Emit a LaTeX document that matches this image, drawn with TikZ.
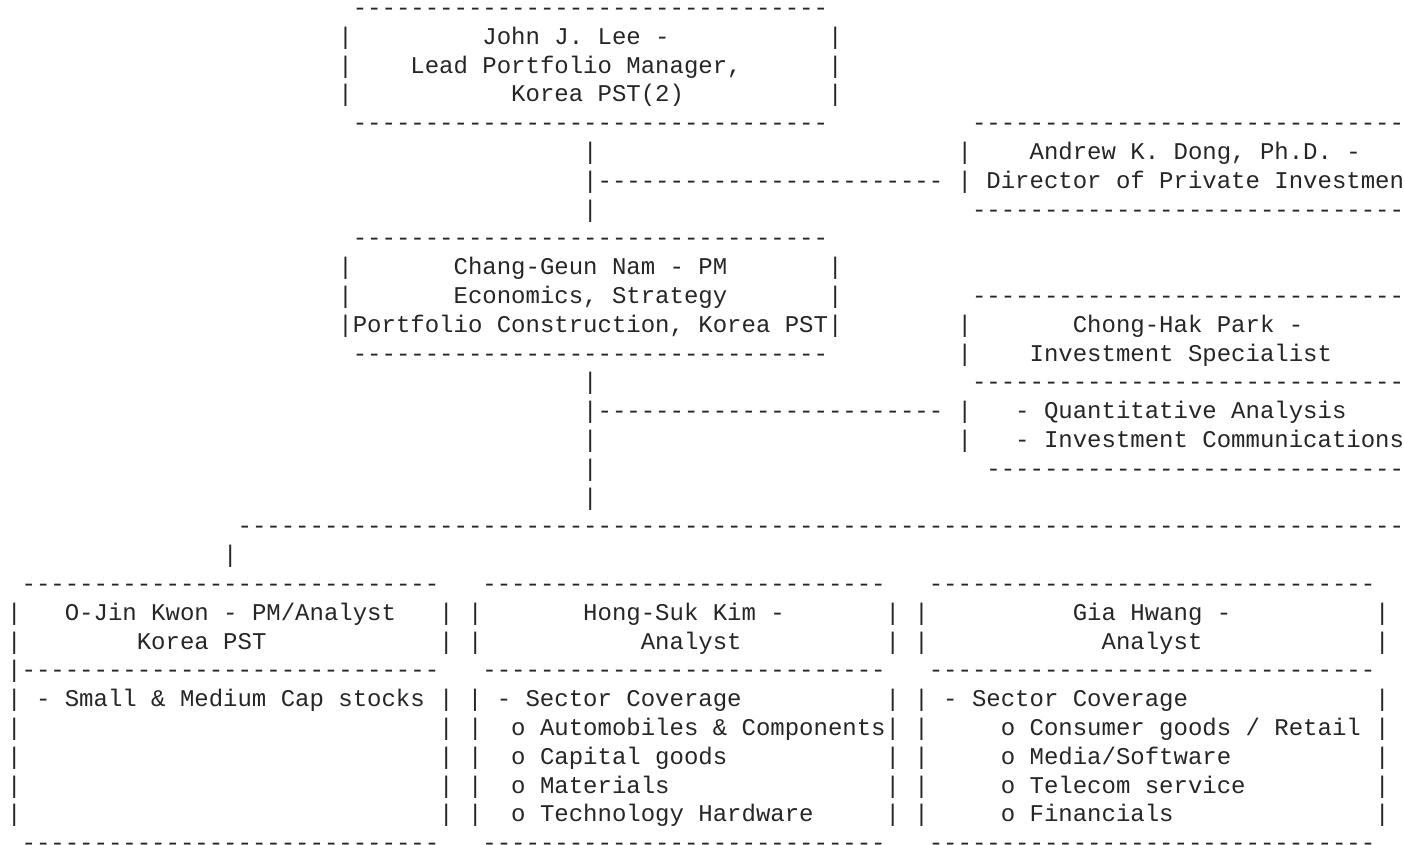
\documentclass[tikz,border=0pt]{standalone}
\usepackage{fontspec}
\setmonofont{Liberation Mono}
\ExplSyntaxOn
\cs_new:Npn \dashrun #1 { \prg_replicate:nn {#1} {-{}} }
\ExplSyntaxOff
\tikzset{asc/.style={anchor=base west, inner sep=0pt, outer sep=0pt,
  font=\ttfamily\fontsize{18pt}{21.6pt}\selectfont, text=black!85},
  dsh/.style={asc, text height=0.45em, text depth=0pt}}
\newcommand\asc[4]{\node[asc] (#1) at ({7.2+14.4*#2},{15.5+28.8*#3}) {#4};}
\newcommand\dsh[4]{\node[dsh] (#1) at ({7.2+14.4*#2},{15.5+28.8*#3}) {\dashrun{#4}};}
\begin{document}
\begin{tikzpicture}[x=0.75pt,y=-0.75pt]
\useasboundingbox (0,0) rectangle (1404,844);
\fill[white] (0,0) rectangle (1404,844);
\clip (0,0) rectangle (1404,844);
% John J. Lee box
\dsh{jltop}{24}{0}{33}
\asc{jll1}{23}{1}{|}\asc{jlt1}{33}{1}{John J. Lee -}\asc{jlr1}{57}{1}{|}
\asc{jll2}{23}{2}{|}\asc{jlt2}{28}{2}{Lead Portfolio Manager,}\asc{jlr2}{57}{2}{|}
\asc{jll3}{23}{3}{|}\asc{jlt3}{35}{3}{Korea PST(2)}\asc{jlr3}{57}{3}{|}
\dsh{jlbot}{24}{4}{33}
% Andrew K. Dong box
\dsh{adtop}{67}{4}{30}
\asc{v5}{40}{5}{|}\asc{adl5}{66}{5}{|}\asc{adt5}{71}{5}{Andrew K. Dong, Ph.D. -}
\asc{h6}{40}{6}{|\dashrun{24}}\asc{adt6}{66}{6}{| Director of Private Investmen}
\asc{v7}{40}{7}{|}\dsh{adbot}{67}{7}{30}
% Chang-Geun Nam box
\dsh{cntop}{24}{8}{33}
\asc{cnl9}{23}{9}{|}\asc{cnt9}{31}{9}{Chang-Geun Nam - PM}\asc{cnr9}{57}{9}{|}
\asc{cnl10}{23}{10}{|}\asc{cnt10}{31}{10}{Economics, Strategy}\asc{cnr10}{57}{10}{|}
\dsh{cptop}{67}{10}{30}
\asc{cnt11}{23}{11}{|Portfolio Construction, Korea PST|}
\asc{cpl11}{66}{11}{|}\asc{cpt11}{74}{11}{Chong-Hak Park -}
\dsh{cnbot}{24}{12}{33}
\asc{cpl12}{66}{12}{|}\asc{cpt12}{71}{12}{Investment Specialist}
\asc{v13}{40}{13}{|}\dsh{cpmid}{67}{13}{30}
\asc{h14}{40}{14}{|\dashrun{24}}\asc{cpl14}{66}{14}{|}\asc{cpt14}{70}{14}{- Quantitative Analysis}
\asc{v15}{40}{15}{|}\asc{cpl15}{66}{15}{|}\asc{cpt15}{70}{15}{- Investment Communications}
\asc{v16}{40}{16}{|}\dsh{cpbot}{68}{16}{29}
\asc{v17}{40}{17}{|}
% branch line
\dsh{h18}{16}{18}{81}
\asc{v19}{15}{19}{|}
% bottom boxes
\dsh{b1top}{1}{20}{29}\dsh{b2top}{33}{20}{28}\dsh{b3top}{64}{20}{31}
\asc{b1l21}{0}{21}{|}\asc{b1t21}{4}{21}{O-Jin Kwon - PM/Analyst}\asc{s21a}{30}{21}{| |}
\asc{b2t21}{40}{21}{Hong-Suk Kim -}\asc{s21b}{61}{21}{| |}\asc{b3t21}{74}{21}{Gia Hwang -}\asc{b3r21}{95}{21}{|}
\asc{b1l22}{0}{22}{|}\asc{b1t22}{9}{22}{Korea PST}\asc{s22a}{30}{22}{| |}
\asc{b2t22}{44}{22}{Analyst}\asc{s22b}{61}{22}{| |}\asc{b3t22}{76}{22}{Analyst}\asc{b3r22}{95}{22}{|}
\asc{b1mid}{0}{23}{|\dashrun{29}}\dsh{b2mid}{33}{23}{28}\dsh{b3mid}{64}{23}{31}
\asc{r24a}{0}{24}{| - Small \& Medium Cap stocks | | - Sector Coverage}
\asc{r24b}{61}{24}{| | - Sector Coverage}\asc{r24c}{95}{24}{|}
\asc{r25a}{0}{25}{|}\asc{r25b}{30}{25}{| |}\asc{r25c}{35}{25}{o Automobiles \& Components| |}
\asc{r25d}{69}{25}{o Consumer goods / Retail |}
\asc{r26a}{0}{26}{|}\asc{r26b}{30}{26}{| |}\asc{r26c}{35}{26}{o Capital goods}
\asc{r26d}{61}{26}{| |}\asc{r26e}{69}{26}{o Media/Software}\asc{r26f}{95}{26}{|}
\asc{r27a}{0}{27}{|}\asc{r27b}{30}{27}{| |}\asc{r27c}{35}{27}{o Materials}
\asc{r27d}{61}{27}{| |}\asc{r27e}{69}{27}{o Telecom service}\asc{r27f}{95}{27}{|}
\asc{r28a}{0}{28}{|}\asc{r28b}{30}{28}{| |}\asc{r28c}{35}{28}{o Technology Hardware}
\asc{r28d}{61}{28}{| |}\asc{r28e}{69}{28}{o Financials}\asc{r28f}{95}{28}{|}
\dsh{b1bot}{1}{29}{29}\dsh{b2bot}{33}{29}{28}\dsh{b3bot}{64}{29}{31}
\end{tikzpicture}
\end{document}
